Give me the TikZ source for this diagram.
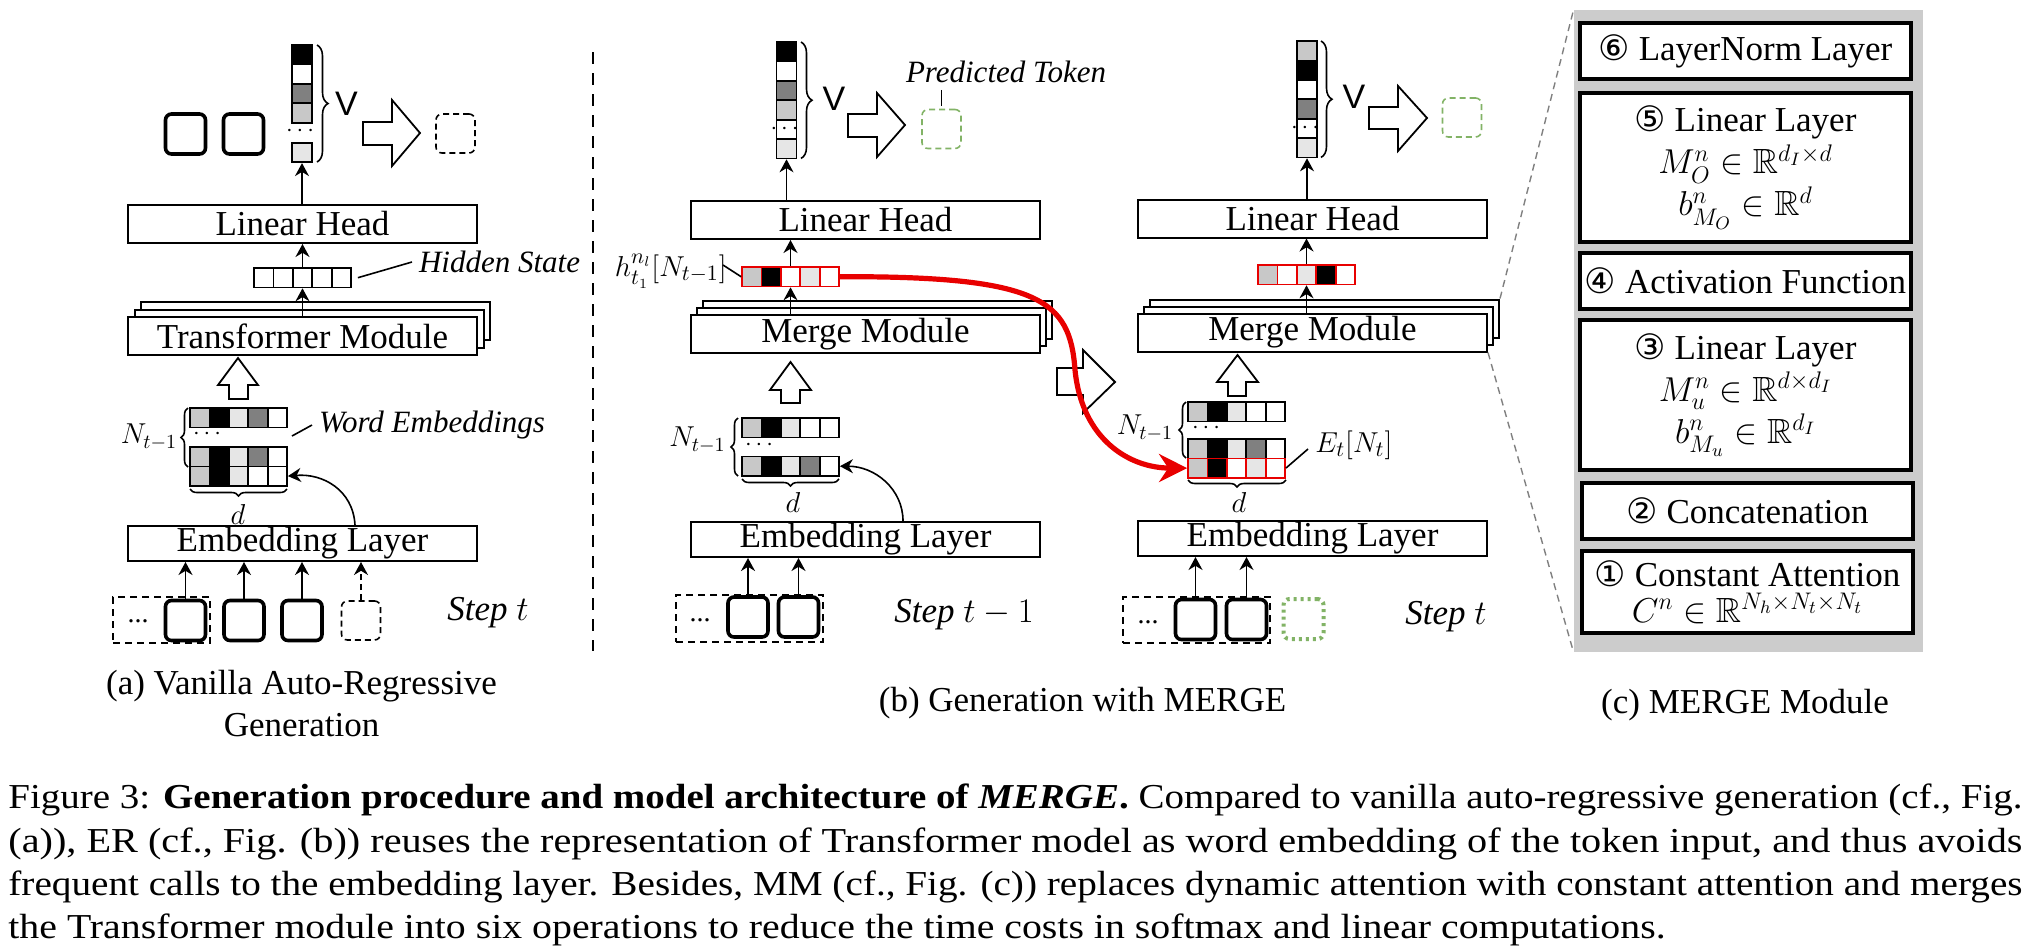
\documentclass[tikz,border=0pt]{standalone}
\usepackage{amsmath,amssymb}
\usepackage{graphicx}
\usepackage{fontspec}
\setmainfont{Liberation Serif}
\newfontfamily\dejavu{DejaVu Sans}
\newfontfamily\timesf{Liberation Serif}
\newfontfamily\arialf{Liberation Sans}
\newcommand\cnum[1]{\mbox{\dejavu #1}}
\newcommand\optext[1]{{\timesf #1}}
\usetikzlibrary{arrows.meta,decorations.pathreplacing}
\definecolor{gL}{RGB}{200,200,200}
\definecolor{gV}{RGB}{230,230,230}
\definecolor{gD}{RGB}{128,128,128}
\definecolor{rd}{RGB}{232,0,0}
\definecolor{grn}{RGB}{130,179,102}
\definecolor{panelgray}{RGB}{204,204,204}
\tikzset{
 lay/.style={draw, line width=1pt, fill=white, minimum width=174.5pt, minimum height=19pt, inner sep=0pt},
 vcell/.style={draw, line width=0.9pt, minimum width=10pt, minimum height=9.7pt, inner sep=0pt},
 mcell/.style={draw, line width=0.9pt, minimum width=9.7pt, minimum height=9.7pt, inner sep=0pt},
 tok/.style={draw, line width=1.8pt, fill=white, rounded corners=3pt, minimum size=20pt, inner sep=0pt},
 ptok/.style={draw, line width=0.8pt, dash pattern=on 3pt off 2pt, rounded corners=3pt, minimum size=19.5pt, inner sep=0pt},
 gtok/.style={ptok, draw=grn},
 gdot/.style={draw=grn, line width=2pt, dash pattern=on 1.5pt off 2pt, rounded corners=3pt, minimum size=20pt, inner sep=0pt},
 ctxbox/.style={draw, line width=0.8pt, dash pattern=on 3.5pt off 2.5pt, inner sep=0pt},
 arr/.style={-{Stealth[length=6.5pt,width=7pt]}, line width=0.8pt},
 fat/.style={draw, line width=0.9pt, fill=white, line join=miter},
 opbox/.style={draw, line width=2pt, fill=white, minimum width=165.5pt, inner sep=0pt, align=center, font=\fontsize{17.5}{21}\selectfont\timesf},
 lbl/.style={font=\fontsize{15.5}{18}\selectfont\itshape},
 mlbl/.style={font=\fontsize{14}{16}\selectfont},
 dotsf/.style={font=\fontsize{12}{12}\selectfont, inner sep=0pt},
 vbrace/.style={decorate, decoration={brace, amplitude=5.5pt}, line width=0.8pt},
 mbrace/.style={decorate, decoration={brace, amplitude=3.5pt}, line width=0.8pt},
 vlab/.style={font=\arialf\fontsize{17}{20}\selectfont},
 thinline/.style={line width=0.8pt},
}
\newcommand\mkrow[6]{%
 \foreach \cc [count=\ii from 0] in {#5} {
  \node[mcell, fill=\cc, draw=#6] (#1-\ii) at ({#2+#4/2+#4*\ii},{#3+#4/2}) {};
 }}
\newcommand\mkcol[4]{%
 \foreach \cc [count=\ii from 0] in {#4} {
  \node[vcell, fill=\cc] (#1-\ii) at ({#2+10},{#3+9.7+19.4*\ii}) {};
 }}
\begin{document}
\begin{tikzpicture}[x=0.5pt,y=-0.5pt,font=\fontsize{17.5}{21}\selectfont]
\useasboundingbox (0,0) rectangle (2034,949);

% ================= Panel (a) =================
\node[lay] (LHa) at (302.5,224) {Linear Head};
\node[lay] (TMa2) at (315.5,321) {};
\node[lay] (TMa1) at (309,328.5) {};
\node[lay] (TMa) at (302.5,336) {Transformer Module};
\node[lay, minimum height=17.5pt] (ELa) at (302.5,543.5) {Embedding Layer};

\mkcol{colA}{292}{45}{black,white,gD,gL}
\node[vcell, fill=gV] (colA-4) at (302,152.5) {};
\node[dotsf] (dotA) at (302,131) {$\cdots$};
\draw[vbrace] (317,45) -- (317,162);
\node[vlab] (VA) at (346.5,103.5) {V};
\draw[fat] (363,122) -- (392,122) -- (392,100) -- (420,133) -- (392,166) -- (392,145) -- (363,145) -- cycle;
\node[tok] (oA1) at (185.5,134) {};
\node[tok] (oA2) at (243.5,134) {};
\node[ptok] (pA) at (455.5,133.5) {};

\mkrow{hsA}{254}{268}{19.4}{white,white,white,white,white}{black}
\node[lbl, anchor=west] (hsl) at (412,262) {Hidden State};
\draw[thinline] (hsl.west) -- ([xshift=3pt]hsA-4.east);

\draw[arr] (colA-4.south |- LHa.north) -- (colA-4.south);
\draw[arr] (hsA-2.north) -- (hsA-2.north |- LHa.south);
\draw[arr] (hsA-2.south |- TMa.north) -- (hsA-2.south);

\draw[fat] (229,399) -- (229,385) -- (218,385) -- (238,358) -- (258,385) -- (248,385) -- (248,399) -- cycle;

\mkrow{mA1}{190}{408}{19.4}{gL,black,gV,gD,white}{black}
\mkrow{mA2}{190}{447}{19.4}{gL,black,gV,gD,white}{black}
\mkrow{mA3}{190}{466.4}{19.4}{gL,black,gV,white,white}{black}
\node[dotsf] (mdA) at (209,434) {$\cdots$};
\draw[mbrace] (188,467) -- (188,408);
\node[mlbl] (NA) at (149,437) {$N_{t-1}$};
\draw[mbrace] (287,489) -- (190,489);
\node[mlbl] (dA) at (238,514) {$d$};
\coordinate (weA) at (292,436);
\node[lbl, anchor=west] (wel) at (312,425) {Word Embeddings};
\draw[thinline] (wel.west) -- (weA);
\draw[arr] ([xshift=26.25pt]ELa.north) .. controls +(-2,-35) and +(35,-3) .. (mA3-4.east);

\node[ctxbox, minimum width=48.5pt, minimum height=23pt] (ctxA) at (161.5,620) {};
\node[font=\fontsize{14}{14}\selectfont, inner sep=0pt] (ctxdA) at (138,621) {...};
\node[tok] (tA1) at (185.5,620.5) {};
\node[tok] (tA2) at (244,620.5) {};
\node[tok] (tA3) at (302,620.5) {};
\node[ptok] (tA4) at (361,620.5) {};
\foreach \t in {tA1,tA2,tA3} \draw[arr] (\t.north) -- (\t.north |- ELa.south);
\draw[arr, dash pattern=on 3pt off 2pt] (tA4.north) -- (tA4.north |- ELa.south);
\node (stA) at (488,613) {\textit{Step} $t$};

\node[align=center] (capA) at (301.5,704) {(a) Vanilla Auto-Regressive\\Generation};

\draw[line width=1pt, dash pattern=on 6pt off 4.5pt] (593,52) -- (593,651);

% ================= Panel (b) left =================
\node[lay] (LHb) at (865.5,220) {Linear Head};
\node[lay] (MMb2) at (877.5,320) {};
\node[lay] (MMb1) at (871.5,327) {};
\node[lay] (MMb) at (865.5,334) {Merge Module};
\node[lay, minimum height=17.5pt] (ELb) at (865.5,539.5) {Embedding Layer};

\mkcol{colB}{776.5}{42}{black,white,gD,gL,white,gV}
\node[dotsf] (dotB) at (colB-4) {$\cdots$};
\draw[vbrace] (801,42) -- (801,158.4);
\node[vlab] (VB) at (834,98.5) {V};
\draw[fat] (848,114) -- (877,114) -- (877,93) -- (905,125) -- (877,157) -- (877,137) -- (848,137) -- cycle;
\node[gtok] (pB) at (941.5,129) {};
\node[lbl] (ptl) at (1006,72) {Predicted Token};
\draw[thinline] (ptl.south -| pB.north) -- ([yshift=1.5pt]pB.north);

\mkrow{rvB}{742}{267}{19.4}{gL,black,white,gV,white}{rd}
\node[font=\fontsize{15}{18}\selectfont, anchor=east, inner sep=0pt] (hl) at (727,271) {$h^{n_l}_{t_1}[N_{t-1}]$};
\draw[thinline] ([xshift=-2pt,yshift=3pt]hl.east) -- (rvB-0.west);

\draw[arr] (colB-5.south |- LHb.north) -- (colB-5.south);
\draw[arr] (rvB-2.north) -- (rvB-2.north |- LHb.south);
\draw[arr] (rvB-2.south |- MMb.north) -- (rvB-2.south);

\draw[fat] (781,403) -- (781,390) -- (770,390) -- (790.5,362) -- (811,390) -- (800,390) -- (800,403) -- cycle;

\mkrow{mB1}{742}{418}{19.4}{gL,black,gV,white,white}{black}
\mkrow{mB2}{742}{456.5}{19.4}{gL,black,gV,gD,white}{black}
\node[dotsf] (mdB) at (761,445) {$\cdots$};
\draw[mbrace] (738,476) -- (738,418);
\node[mlbl] (NB) at (697.5,440) {$N_{t-1}$};
\draw[mbrace] (839,479) -- (742,479);
\node[mlbl] (dB) at (793,502) {$d$};
\draw[arr] ([xshift=18.75pt]ELb.north) .. controls +(0,-32) and +(35,0) .. (mB2-4.east);

\node[ctxbox, minimum width=73.5pt, minimum height=23.5pt] (ctxB) at (749.5,618.5) {};
\node[font=\fontsize{14}{14}\selectfont, inner sep=0pt] (ctxdB) at (700,620) {...};
\node[tok] (tB1) at (748,617) {};
\node[tok] (tB2) at (798.5,617) {};
\foreach \t in {tB1,tB2} \draw[arr] (\t.north) -- (\t.north |- ELb.south);
\node (stB) at (964,615) {\textit{Step} $t-1$};

\node (capB) at (1082.5,703) {(b) Generation with MERGE};

% ================= Panel (b) right =================
\node[lay] (LHc) at (1312.5,218.5) {Linear Head};
\node[lay] (MMc2) at (1324.5,318.5) {};
\node[lay] (MMc1) at (1318.5,325.5) {};
\node[lay] (MMc) at (1312.5,332.5) {Merge Module};
\node[lay, minimum height=17.5pt] (ELc) at (1312.5,538.5) {Embedding Layer};

\mkcol{colC}{1297}{41}{gL,black,white,gD,white,gV}
\node[dotsf] (dotC) at (colC-4) {$\cdots$};
\draw[vbrace] (1321,41) -- (1321,157.4);
\node[vlab] (VC) at (1354,96.5) {V};
\draw[fat] (1369,107) -- (1398,107) -- (1398,86) -- (1427,118) -- (1398,151) -- (1398,129) -- (1369,129) -- cycle;
\node[gtok] (pC) at (1462,117.5) {};

\mkrow{rvC}{1258}{265}{19.4}{gL,white,gV,black,white}{rd}
\draw[arr] (colC-5.south |- LHc.north) -- (colC-5.south);
\draw[arr] (rvC-2.north) -- (rvC-2.north |- LHc.south);
\draw[arr] (rvC-2.south |- MMc.north) -- (rvC-2.south);

\draw[fat] (1228,396) -- (1228,382) -- (1217,382) -- (1237.5,355) -- (1258,382) -- (1246,382) -- (1246,396) -- cycle;

\mkrow{mC1}{1188}{402}{19.4}{gL,black,gV,white,white}{black}
\mkrow{mC2}{1188}{439}{19.4}{gL,black,gV,gD,white}{black}
\mkrow{mC3}{1188}{458.4}{19.4}{gL,black,white,gV,white}{rd}
\node[dotsf] (mdC) at (1208,428) {$\cdots$};
\draw[mbrace] (1186,458) -- (1186,402);
\node[mlbl] (NC) at (1145,428) {$N_{t-1}$};
\draw[mbrace] (1286,480) -- (1188,480);
\node[mlbl] (dC) at (1239,502) {$d$};
\node[font=\fontsize{15}{18}\selectfont, anchor=west, inner sep=0pt] (el) at (1315,445) {$E_t[N_t]$};
\draw[thinline] (mC3-4.east) -- ([xshift=-3.5pt,yshift=-2pt]el.west);

\node[ctxbox, minimum width=73.5pt, minimum height=23pt] (ctxC) at (1196.5,620) {};
\node[font=\fontsize{14}{14}\selectfont, inner sep=0pt] (ctxdC) at (1148,622) {...};
\node[tok] (tC1) at (1195.5,619.5) {};
\node[tok] (tC2) at (1246.5,619.5) {};
\node[gdot] (tC3) at (1303.5,619) {};
\foreach \t in {tC1,tC2} \draw[arr] (\t.north) -- (\t.north |- ELc.south);
\node (stC) at (1446,617) {\textit{Step} $t$};

% middle fat arrow and red reuse arrow
\draw[fat] (1057,368) -- (1083,368) -- (1083,350) -- (1115,382) -- (1083,413) -- (1083,395) -- (1057,395) -- cycle;
\draw[rd, line width=2.6pt, -{Stealth[length=14pt,width=14pt]}]
  (rvB-4.east) .. controls (1040,276) and (1070,300) .. (1075,370)
  .. controls (1082,440) and (1130,468) .. (mC3-0.west);

% ================= Panel (c) =================
\node[fill=panelgray, minimum width=174.5pt, minimum height=321pt, inner sep=0pt] (bg) at (1748.5,331) {};
\draw[gray, line width=0.7pt, dash pattern=on 3.5pt off 2.5pt] (MMc2.north east) -- (bg.north west);
\draw[gray, line width=0.7pt, dash pattern=on 3.5pt off 2.5pt] (MMc.south east) -- (bg.south west);

\node[opbox, minimum height=28pt] (op6) at (1745.5,51) {\cnum{⑥} \optext{LayerNorm Layer}};
\node[opbox, minimum height=74.5pt] (op5) at (1745.5,167.5) {\cnum{⑤} \optext{Linear Layer}\\$M_O^n\in\mathbb{R}^{d_I\times d}$\\$b^n_{M_O}\in\mathbb{R}^{d}$};
\node[opbox, minimum height=28pt] (op4) at (1745.5,281) {\cnum{④} \optext{Activation Function}};
\node[opbox, minimum height=75pt] (op3) at (1745.5,395) {\cnum{③} \optext{Linear Layer}\\$M_u^n\in\mathbb{R}^{d\times d_I}$\\$b^n_{M_u}\in\mathbb{R}^{d_I}$};
\node[opbox, minimum height=28pt] (op2) at (1747.5,511) {\cnum{②} \optext{Concatenation}};
\node[opbox, minimum height=41pt] (op1) at (1747.5,592) {\cnum{①} \optext{Constant Attention}\\[-3pt]$C^n\in\mathbb{R}^{N_h\times N_t\times N_t}$};

\node (capC) at (1745,705) {(c) MERGE Module};

% ================= Caption =================
\node[anchor=base west, inner sep=0pt] (cap1) at (8,808) {\resizebox{1007pt}{\height}{Figure 3: \textbf{Generation procedure and model architecture of \textit{MERGE}.} Compared to vanilla auto-regressive generation (cf., Fig.}};
\node[anchor=base west, inner sep=0pt] (cap2) at (8,852) {\resizebox{1007pt}{\height}{(a)), ER (cf., Fig. (b)) reuses the representation of Transformer model as word embedding of the token input, and thus avoids}};
\node[anchor=base west, inner sep=0pt] (cap3) at (8,895) {\resizebox{1007pt}{\height}{frequent calls to the embedding layer. Besides, MM (cf., Fig. (c)) replaces dynamic attention with constant attention and merges}};
\node[anchor=base west, inner sep=0pt] (cap4) at (8,938) {\resizebox{828.5pt}{\height}{the Transformer module into six operations to reduce the time costs in softmax and linear computations.}};
\end{tikzpicture}
\end{document}
